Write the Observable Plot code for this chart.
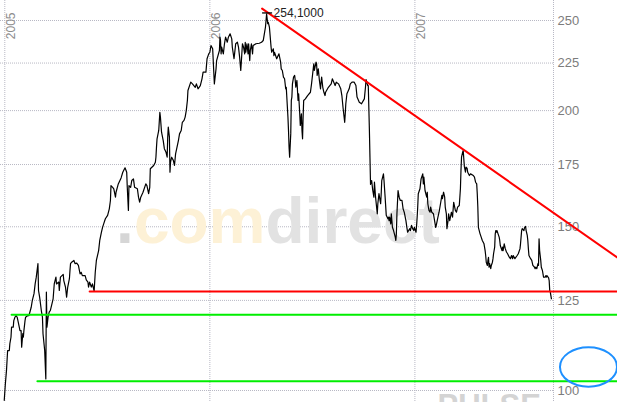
<!DOCTYPE html>
<html><head><meta charset="utf-8">
<script src="https://cdn.jsdelivr.net/npm/d3@7"></script>
<script src="https://cdn.jsdelivr.net/npm/@observablehq/plot@0.6"></script>
<style>html,body{margin:0;padding:0;background:#fff;overflow:hidden}#chart svg{display:block}</style>
</head><body><div id="chart"></div>
<script>
// ---- data ----
const dates = [
"2004-12-31","2005-01-02","2005-01-04","2005-01-05","2005-01-06","2005-01-09","2005-01-10","2005-01-12","2005-01-13","2005-01-16",
"2005-01-17","2005-01-19","2005-01-21","2005-01-23","2005-01-25","2005-01-28","2005-01-30","2005-01-31","2005-02-02","2005-02-03",
"2005-02-04","2005-02-06","2005-02-07","2005-02-11","2005-02-13","2005-02-17","2005-02-19","2005-02-22","2005-02-24","2005-02-26",
"2005-03-01","2005-03-02","2005-03-04","2005-03-07","2005-03-09","2005-03-10","2005-03-13","2005-03-15","2005-03-16","2005-03-17",
"2005-03-19","2005-03-21","2005-03-23","2005-03-26","2005-03-28","2005-03-30","2005-04-02","2005-04-03","2005-04-07","2005-04-08",
"2005-04-10","2005-04-15","2005-04-16","2005-04-19","2005-04-21","2005-04-23","2005-04-26","2005-04-27","2005-04-28","2005-04-30",
"2005-05-04","2005-05-06","2005-05-09","2005-05-12","2005-05-15","2005-05-17","2005-05-19","2005-05-24","2005-05-26","2005-05-29",
"2005-05-30","2005-06-01","2005-06-04","2005-06-06","2005-06-09","2005-06-11","2005-06-13","2005-06-17","2005-06-19","2005-06-22",
"2005-06-24","2005-06-26","2005-06-29","2005-07-03","2005-07-06","2005-07-08","2005-07-09","2005-07-12","2005-07-14","2005-07-17",
"2005-07-18","2005-07-22","2005-07-27","2005-07-30","2005-08-03","2005-08-06","2005-08-07","2005-08-09","2005-08-10","2005-08-13",
"2005-08-15","2005-08-18","2005-08-20","2005-08-25","2005-08-27","2005-08-29","2005-08-31","2005-09-04","2005-09-09","2005-09-11",
"2005-09-14","2005-09-16","2005-09-17","2005-09-23","2005-09-26","2005-09-27","2005-09-28","2005-09-29","2005-10-02","2005-10-04",
"2005-10-05","2005-10-07","2005-10-10","2005-10-12","2005-10-15","2005-10-17","2005-10-18","2005-10-19","2005-10-21","2005-10-22",
"2005-10-23","2005-10-25","2005-10-28","2005-10-30","2005-11-01","2005-11-06","2005-11-08","2005-11-11","2005-11-13","2005-11-16",
"2005-11-18","2005-11-20","2005-11-22","2005-11-23","2005-11-28","2005-12-01","2005-12-06","2005-12-08","2005-12-11","2005-12-15",
"2005-12-18","2005-12-20","2005-12-25","2005-12-27","2005-12-30","2006-01-01","2006-01-03","2006-01-06","2006-01-07","2006-01-09",
"2006-01-12","2006-01-13","2006-01-18","2006-01-19","2006-01-20","2006-01-21","2006-01-22","2006-01-25","2006-01-27","2006-01-29",
"2006-02-01","2006-02-03","2006-02-06","2006-02-09","2006-02-10","2006-02-13","2006-02-14","2006-02-16","2006-02-19","2006-02-21",
"2006-02-23","2006-02-25","2006-02-26","2006-02-28","2006-03-02","2006-03-04","2006-03-05","2006-03-06","2006-03-08","2006-03-10",
"2006-03-11","2006-03-13","2006-03-14","2006-03-16","2006-03-18","2006-03-19","2006-03-24","2006-03-30","2006-04-03","2006-04-06",
"2006-04-08","2006-04-10","2006-04-11","2006-04-12","2006-04-14","2006-04-15","2006-04-17","2006-04-18","2006-04-19","2006-04-20",
"2006-04-21","2006-04-24","2006-04-25","2006-04-26","2006-04-30","2006-05-04","2006-05-07","2006-05-08","2006-05-10","2006-05-12",
"2006-05-14","2006-05-16","2006-05-17","2006-05-20","2006-05-21","2006-05-22","2006-05-23","2006-05-25","2006-05-26","2006-05-27",
"2006-05-28","2006-05-30","2006-06-01","2006-06-02","2006-06-03","2006-06-05","2006-06-07","2006-06-08","2006-06-09","2006-06-10",
"2006-06-11","2006-06-13","2006-06-14","2006-06-15","2006-06-16","2006-06-17","2006-06-20","2006-06-24","2006-06-29","2006-07-01",
"2006-07-03","2006-07-05","2006-07-06","2006-07-09","2006-07-10","2006-07-11","2006-07-13","2006-07-15","2006-07-17","2006-07-18",
"2006-07-19","2006-07-21","2006-07-23","2006-07-25","2006-07-26","2006-07-31","2006-08-05","2006-08-07","2006-08-12","2006-08-14",
"2006-08-18","2006-08-22","2006-08-24","2006-08-26","2006-08-29","2006-08-30","2006-08-31","2006-09-02","2006-09-06","2006-09-08",
"2006-09-11","2006-09-15","2006-09-18","2006-09-20","2006-09-24","2006-09-28","2006-10-03","2006-10-05","2006-10-06","2006-10-09",
"2006-10-10","2006-10-12","2006-10-13","2006-10-14","2006-10-16","2006-10-18","2006-10-20","2006-10-21","2006-10-23","2006-10-26",
"2006-10-27","2006-10-29","2006-11-01","2006-11-02","2006-11-03","2006-11-06","2006-11-07","2006-11-09","2006-11-11","2006-11-14",
"2006-11-15","2006-11-16","2006-11-17","2006-11-19","2006-11-20","2006-11-21","2006-11-22","2006-11-24","2006-11-27","2006-11-28",
"2006-11-29","2006-11-30","2006-12-02","2006-12-04","2006-12-06","2006-12-09","2006-12-11","2006-12-13","2006-12-16","2006-12-18",
"2006-12-19","2006-12-23","2006-12-24","2006-12-26","2006-12-28","2006-12-30","2006-12-31","2007-01-03","2007-01-04","2007-01-05",
"2007-01-06","2007-01-07","2007-01-10","2007-01-12","2007-01-13","2007-01-15","2007-01-16","2007-01-17","2007-01-19","2007-01-22",
"2007-01-23","2007-01-24","2007-01-26","2007-01-28","2007-01-29","2007-01-31","2007-02-03","2007-02-05","2007-02-07","2007-02-08",
"2007-02-11","2007-02-13","2007-02-16","2007-02-18","2007-02-19","2007-02-21","2007-02-23","2007-02-24","2007-02-26","2007-02-27",
"2007-03-01","2007-03-02","2007-03-04","2007-03-07","2007-03-09","2007-03-11","2007-03-14","2007-03-16","2007-03-18","2007-03-21",
"2007-03-22","2007-03-23","2007-03-24","2007-03-25","2007-03-27","2007-03-28","2007-03-29","2007-03-30","2007-04-01","2007-04-02",
"2007-04-04","2007-04-05","2007-04-08","2007-04-10","2007-04-15","2007-04-17","2007-04-19","2007-04-21","2007-04-22","2007-04-23",
"2007-04-24","2007-04-27","2007-04-29","2007-05-01","2007-05-04","2007-05-06","2007-05-07","2007-05-08","2007-05-10","2007-05-11",
"2007-05-12","2007-05-13","2007-05-14","2007-05-16","2007-05-17","2007-05-19","2007-05-20","2007-05-21","2007-05-23","2007-05-24",
"2007-05-25","2007-05-26","2007-05-27","2007-05-29","2007-05-31","2007-06-01","2007-06-02","2007-06-05","2007-06-06","2007-06-07",
"2007-06-09","2007-06-11","2007-06-13","2007-06-15","2007-06-18","2007-06-20","2007-06-22","2007-06-24","2007-06-25","2007-06-28",
"2007-07-02","2007-07-04","2007-07-07","2007-07-08","2007-07-09","2007-07-10","2007-07-11","2007-07-14","2007-07-15","2007-07-17",
"2007-07-18","2007-07-20","2007-07-21","2007-07-22","2007-07-23","2007-07-26","2007-07-28","2007-07-30","2007-08-02","2007-08-03",
"2007-08-04","2007-08-06","2007-08-08","2007-08-09","2007-08-10","2007-08-11","2007-08-13","2007-08-14","2007-08-16","2007-08-17",
"2007-08-18","2007-08-21","2007-08-22","2007-08-23","2007-08-24","2007-08-27","2007-08-28","2007-08-29","2007-08-30","2007-09-01"
];
const closes = [
97.6,101.7,105.1,107.7,110.4,110.4,112.3,114.1,117.0,117.0,
118.9,119.9,120.4,119.9,118.4,116.0,116.0,111.3,115.1,114.1,
116.0,118.9,119.9,120.4,120.4,122.9,125.0,127.1,130.2,132.4,
136.9,128.1,126.0,121.9,119.9,115.1,110.4,102.9,127.6,117.0,
119.9,121.4,121.9,124.0,125.5,130.2,132.4,130.2,130.8,128.1,
132.4,133.3,131.3,129.2,126.0,129.2,131.9,134.6,136.9,137.4,
138.0,136.9,137.1,136.3,133.5,134.0,132.9,132.9,131.5,130.8,
129.2,130.8,129.2,130.2,127.9,134.0,138.0,141.4,145.0,148.0,
149.8,151.1,153.0,154.3,156.8,160.1,166.1,165.4,164.8,161.4,
163.4,166.8,169.3,171.7,173.6,171.7,165.4,156.2,166.1,165.4,
168.2,168.9,165.4,164.8,161.4,159.4,161.4,163.4,166.8,166.1,
162.8,165.4,173.2,174.6,176.0,178.2,182.7,186.5,190.4,199.2,
196.8,189.6,185.7,182.0,180.4,178.2,187.3,192.0,187.3,171.7,
176.0,178.2,176.8,174.6,179.7,185.7,188.8,190.4,194.3,195.2,
196.8,200.0,205.1,210.2,214.6,213.7,211.9,213.7,211.1,212.8,
216.4,220.0,220.0,227.4,230.2,231.1,235.0,233.1,226.4,213.7,
221.8,226.4,232.1,239.9,237.9,230.2,234.0,230.2,236.0,239.9,
236.9,239.9,241.9,238.9,234.0,227.4,230.2,236.0,236.9,234.0,
228.3,220.9,225.5,236.0,234.0,230.2,236.9,231.1,236.0,230.2,
236.0,226.4,232.1,236.0,230.2,235.0,236.0,236.3,236.9,237.9,
241.9,246.0,250.0,254.1,248.0,248.9,246.0,241.9,237.9,234.0,
231.1,233.1,229.2,231.1,227.4,230.2,225.5,221.8,220.9,217.3,
216.4,211.1,211.9,196.8,190.4,182.7,178.2,188.8,205.1,206.8,
213.7,217.3,218.2,215.5,211.9,215.5,205.1,208.5,203.4,198.4,
192.8,198.4,190.4,186.5,196.8,205.1,205.9,207.6,209.3,213.7,
219.1,224.6,220.9,225.5,224.6,218.2,221.8,215.5,211.1,214.6,
217.3,211.9,209.3,207.6,209.3,211.9,213.7,216.4,212.8,214.6,
213.7,211.1,207.6,201.7,194.3,198.4,203.4,208.5,211.1,213.7,
214.6,214.6,212.8,206.8,204.2,203.4,205.9,211.9,216.0,212.8,
212.8,190.4,178.2,166.6,168.2,164.1,161.4,167.5,161.4,154.9,
158.8,162.8,158.8,162.8,168.2,171.0,168.2,161.4,154.3,153.0,
153.6,152.3,153.6,151.1,154.9,152.3,149.8,148.6,146.2,145.0,
147.4,154.9,164.1,161.4,160.1,160.1,156.8,155.5,152.3,149.3,
148.0,149.3,148.6,150.5,149.3,148.6,149.8,148.0,150.5,153.6,
157.5,162.8,164.8,168.9,169.6,171.0,166.8,169.6,164.1,161.4,
163.4,158.8,156.2,155.5,157.5,155.5,154.9,152.3,149.8,150.5,
153.6,155.5,159.4,162.1,160.8,163.4,161.4,157.5,154.9,149.3,
152.3,154.9,152.3,155.5,153.6,159.4,156.2,155.5,157.5,158.1,
161.4,164.8,172.4,178.2,180.4,181.2,177.6,174.2,171.7,173.9,
173.3,171.7,170.3,171.0,170.3,169.6,167.5,166.8,162.8,157.5,
149.8,147.4,146.2,145.0,143.8,141.4,139.7,137.4,136.3,138.0,
139.1,135.7,136.9,135.2,136.3,137.4,138.6,140.3,142.6,147.4,
148.6,148.0,148.6,147.4,146.2,145.0,143.2,141.4,142.6,141.4,
143.8,142.0,140.9,140.3,139.1,138.6,139.7,138.6,139.7,138.6,
139.7,140.3,142.0,143.8,146.2,148.6,149.3,148.6,149.6,150.1,
148.6,146.8,145.0,142.0,139.7,138.6,138.0,136.3,135.7,135.2,
135.7,135.2,136.9,136.3,145.6,141.4,138.0,135.7,134.6,133.5,
132.4,132.4,132.9,132.4,132.9,132.2,131.3,128.1,127.6,125.5
];
const yearTicks = ["2005-01-01", "2006-01-01", "2007-01-01"];
const yearLabels = ["2005", "2006", "2007"];
const priceTicks = [100, 125, 150, 175, 200, 225, 250];
const xDomain = ["2004-12-24T08:00Z", "2007-09-04T17:00Z"];
const yDomain = [97.07, 262.7];
// hand-drawn lines (start/end date, value)
const trendDates = ["2006-04-04", "2007-12-28"];
const trendValues = [257.5, 138.9];
const supportDates = ["2005-06-01", "2007-12-28"];
const supportValues = [127.8, 127.8];
const greenHighDates = ["2005-01-13", "2007-12-28"];
const greenHighValues = [120.6, 120.6];
const greenLowDates = ["2005-02-28", "2007-12-28"];
const greenLowValues = [102.3, 102.3];
const circleDates = ["2007-11-06"];
const circleValues = [106.0];
const watermarkParts = [".", "com", "direct"];

// ---- build ----
const parse = s => new Date(s);
const prices = dates.map((d, i) => ({date: parse(d), close: closes[i]}));
const seg = (ds, vs) => ds.map((d, i) => ({date: parse(d), value: vs[i]}));
const peak = d3.greatest(prices, d => d.close);

const ellipseSymbol = {draw(ctx) {
  const rx = 28.5, ry = 19.7, k = 0.5523;
  ctx.moveTo(rx, 0);
  ctx.bezierCurveTo(rx, ry * k, rx * k, ry, 0, ry);
  ctx.bezierCurveTo(-rx * k, ry, -rx, ry * k, -rx, 0);
  ctx.bezierCurveTo(-rx, -ry * k, -rx * k, -ry, 0, -ry);
  ctx.bezierCurveTo(rx * k, -ry, rx, -ry * k, rx, 0);
  ctx.closePath();
}};
const dashSymbol = {draw(ctx) { ctx.moveTo(-4.5, 0); ctx.lineTo(5.5, 0); }};

const grid = {stroke: "#b8b8c4", strokeDasharray: "1,1", strokeWidth: 1, strokeOpacity: 1};
const wm = {frameAnchor: "left", fontSize: 64, fontWeight: "bold", dy: 21.5, lineAnchor: "middle"};

const plot = Plot.plot({
  width: 617, height: 402,
  marginTop: 0, marginBottom: 0, marginLeft: 0, marginRight: 64,
  style: {fontFamily: "'Liberation Sans', Arial, sans-serif", background: "#fff", overflow: "visible"},
  x: {type: "utc", domain: xDomain.map(parse), axis: null},
  y: {type: "log", domain: yDomain, axis: null},
  marks: [
    Plot.ruleY(priceTicks, {y: d => d, ...grid}),
    Plot.ruleX(yearTicks.map(parse), {x: d => d, ...grid}),
    Plot.ruleX([parse(xDomain[1])], {x: d => d, ...grid}),
    Plot.text(yearLabels, {x: (d, i) => parse(yearTicks[i]), frameAnchor: "top", rotate: -90, textAnchor: "end", lineAnchor: "middle", dx: 6, dy: 12, fontSize: 12, fill: "#8c8c8c"}),
    Plot.text([watermarkParts[0]], {...wm, textAnchor: "end", dx: 133.4, fill: "#d6d6d6"}),
    Plot.text([watermarkParts[1]], {...wm, textAnchor: "end", dx: 265, fill: "#fdf1d6"}),
    Plot.text([watermarkParts[2]], {...wm, textAnchor: "start", dx: 265, fill: "#e2e2e2"}),
    Plot.text(["PULSE"], {frameAnchor: "bottom-left", textAnchor: "start", lineAnchor: "top", dx: 437, dy: -9, fontSize: 31, fontWeight: "bold", fill: "#d4d4d4"}),
    Plot.axisY(priceTicks, {anchor: "right", tickSize: 0, tickPadding: 4, label: null, fontSize: 13, color: "#7c7c7c"}),
    Plot.line(prices, {x: "date", y: "close", stroke: "#000", strokeWidth: 1.2}),
    Plot.line(seg(trendDates, trendValues), {x: "date", y: "value", stroke: "#ff0000", strokeWidth: 2}),
    Plot.line(seg(supportDates, supportValues), {x: "date", y: "value", stroke: "#ff0000", strokeWidth: 2}),
    Plot.line(seg(greenHighDates, greenHighValues), {x: "date", y: "value", stroke: "#00ee00", strokeWidth: 2}),
    Plot.line(seg(greenLowDates, greenLowValues), {x: "date", y: "value", stroke: "#00ee00", strokeWidth: 2}),
    Plot.dot(seg(circleDates, circleValues), {x: "date", y: "value", symbol: ellipseSymbol, stroke: "#1e90ff", strokeWidth: 2, fill: "none"}),
    Plot.dot([peak], {x: "date", y: "close", symbol: dashSymbol, stroke: "#000", strokeWidth: 1.3, dy: -1}),
    Plot.text([peak], {x: "date", y: "close", text: d => d.close.toFixed(4).replace(".", ","), textAnchor: "start", dx: 7, dy: -1, fontSize: 12, fill: "#222"})
  ]
});
document.getElementById("chart").append(plot);
</script>
</body></html>
